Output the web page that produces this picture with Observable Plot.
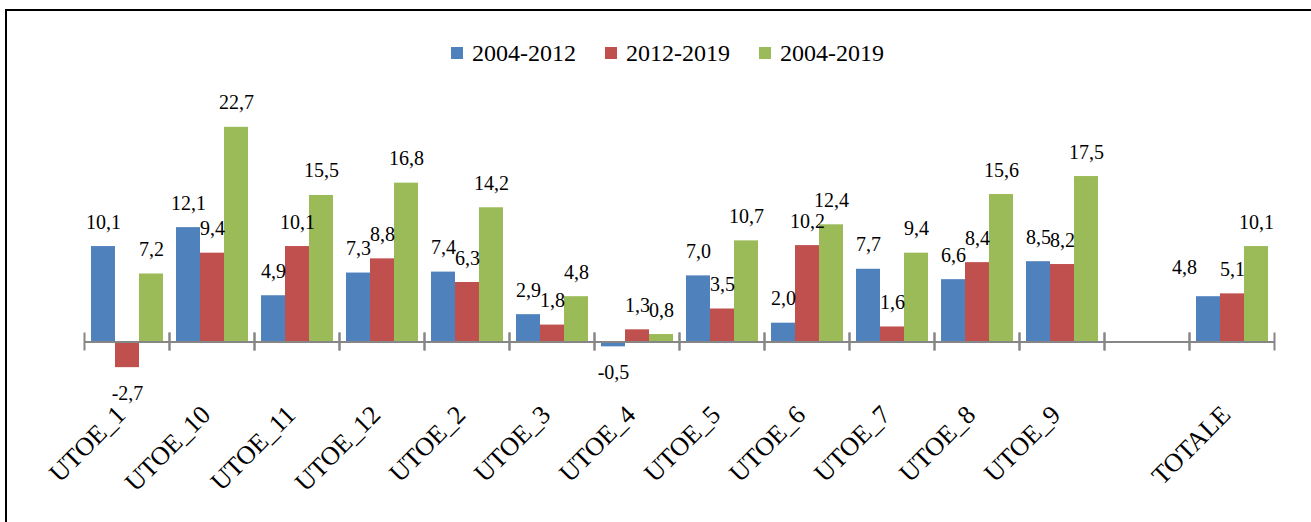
<!DOCTYPE html>
<html><head><meta charset="utf-8">
<script src="https://cdn.jsdelivr.net/npm/d3@7"></script>
<script src="https://cdn.jsdelivr.net/npm/@observablehq/plot@0.6"></script>
<style>
body{margin:0;background:#fff;font-family:"Liberation Serif","Times New Roman","DejaVu Serif",serif;overflow:hidden;width:1311px;height:522px;position:relative}
#border{position:absolute;left:5px;top:9px;width:1400px;height:600px;border:2px solid #000;box-sizing:border-box}
#legend{position:absolute;left:451px;top:36px;height:34px;display:flex;align-items:center;font-size:24px;color:#000;white-space:nowrap}
.item{display:flex;align-items:center;margin-right:29px}
.sw{width:12px;height:12px;margin-right:9px;display:inline-block}
#chart{position:absolute;left:0;top:75px}
#chart svg text{font-family:"Liberation Serif","Times New Roman","DejaVu Serif",serif}
</style></head><body>
<div id="border"></div>
<div id="legend"></div>
<div id="chart"></div>
<script>
const categories = ["UTOE_1","UTOE_10","UTOE_11","UTOE_12","UTOE_2","UTOE_3","UTOE_4","UTOE_5","UTOE_6","UTOE_7","UTOE_8","UTOE_9","","TOTALE"];
const series = ["2004-2012","2012-2019","2004-2019"];
const colors = ["#4F81BD","#C0504D","#9BBB59"];
const v2004_2012 = [10.1,12.1,4.9,7.3,7.4,2.9,-0.5,7.0,2.0,7.7,6.6,8.5,null,4.8];
const v2012_2019 = [-2.7,9.4,10.1,8.8,6.3,1.8,1.3,3.5,10.2,1.6,8.4,8.2,null,5.1];
const v2004_2019 = [7.2,22.7,15.5,16.8,14.2,4.8,0.8,10.7,12.4,9.4,15.6,17.5,null,10.1];
const values = [v2004_2012, v2012_2019, v2004_2019];

const rows = [];
series.forEach((s, j) => categories.forEach((c, i) => rows.push({category: c, series: s, value: values[j][i]})));
const fmt = v => v.toFixed(1).replace(".", ",");

// legend
const legend = document.getElementById("legend");
series.forEach((s, j) => {
  const it = document.createElement("div");
  it.className = "item";
  it.innerHTML = `<span class="sw" style="background:${colors[j]}"></span><span>${s}</span>`;
  legend.appendChild(it);
});

const serif = '"Liberation Serif", "Times New Roman", "DejaVu Serif", serif';
const tickStyle = {stroke: "#868686", strokeWidth: 2, insetTop: 209, insetBottom: 21};
// the TOTALE 2004-2012 label was moved by hand in the original
const isMoved = d => d.category === "TOTALE" && d.series === "2004-2012";
const labelOpts = {fx: "category", x: "series", y: "value", text: d => fmt(d.value), fill: "#000", fontSize: 20, fontFamily: serif};
const chart = Plot.plot({
  width: 1311, height: 447,
  marginLeft: 77, marginRight: 31, marginTop: 49, marginBottom: 152,
  style: {fontFamily: serif, fontSize: "20px", color: "#000", background: "transparent", overflow: "visible"},
  fx: {domain: categories, padding: 0, label: null},
  x: {domain: series, paddingInner: 0, paddingOuter: 0.257, axis: null},
  y: {domain: [-3, 23], axis: null},
  color: {domain: series, range: colors},
  marks: [
    Plot.barY(rows, {fx: "category", x: "series", y: "value", fill: "series"}),
    Plot.ruleY([0], {stroke: "#868686", strokeWidth: 2}),
    Plot.frame({anchor: "left", ...tickStyle}),
    Plot.frame({anchor: "right", ...tickStyle}),
    Plot.text(rows.filter(d => d.value != null && d.value >= 0 && !isMoved(d)), {...labelOpts, lineAnchor: "bottom", dy: -18}),
    Plot.text(rows.filter(d => isMoved(d)), {...labelOpts, lineAnchor: "bottom", dy: -23, dx: -24}),
    Plot.text(rows.filter(d => d.value != null && d.value < 0), {...labelOpts, lineAnchor: "top", dy: 18}),
    Plot.axisFx({anchor: "bottom", tickSize: 0, tickPadding: 40, tickRotate: -45, fontSize: 26, fontFamily: serif, dx: -6, label: null, tickFormat: d => d})
  ]
});
document.getElementById("chart").appendChild(chart);
</script>
</body></html>
